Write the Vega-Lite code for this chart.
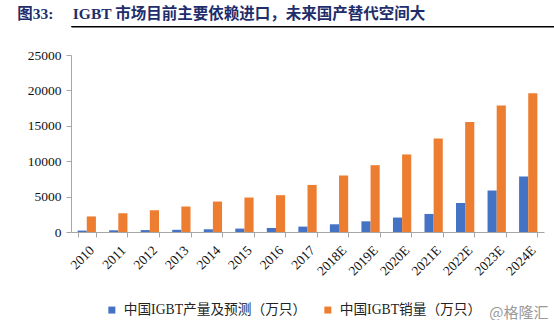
{
  "$schema": "https://vega.github.io/schema/vega-lite/v6.json",
  "padding": {"left": 15, "top": 7, "right": 0, "bottom": 0},
  "title": {
    "text": "图33:\u2003\u2005IGBT 市场目前主要依赖进口，未来国产替代空间大",
    "anchor": "start",
    "font": "Liberation Serif, Noto Sans CJK SC",
    "fontSize": 15.5,
    "fontWeight": "bold",
    "color": "#1F2D6B",
    "offset": 3,
    "dx": 2
  },
  "spacing": 21,
  "config": {"view": {"stroke": null}},
  "vconcat": [
    {
      "width": 539,
      "height": 0.5,
      "data": {"values": []},
      "view": {"stroke": "#000000", "strokeWidth": 1},
      "mark": {"type": "point", "opacity": 0}
    },
    {
      "width": 473,
      "height": 177,
      "data": {
        "values": [
          {"year": "2010", "series": "中国IGBT产量及预测（万只）", "value": 200},
          {"year": "2011", "series": "中国IGBT产量及预测（万只）", "value": 240},
          {"year": "2012", "series": "中国IGBT产量及预测（万只）", "value": 270},
          {"year": "2013", "series": "中国IGBT产量及预测（万只）", "value": 310},
          {"year": "2014", "series": "中国IGBT产量及预测（万只）", "value": 380},
          {"year": "2015", "series": "中国IGBT产量及预测（万只）", "value": 480},
          {"year": "2016", "series": "中国IGBT产量及预测（万只）", "value": 570},
          {"year": "2017", "series": "中国IGBT产量及预测（万只）", "value": 760},
          {"year": "2018E", "series": "中国IGBT产量及预测（万只）", "value": 1090},
          {"year": "2019E", "series": "中国IGBT产量及预测（万只）", "value": 1510},
          {"year": "2020E", "series": "中国IGBT产量及预测（万只）", "value": 2040},
          {"year": "2021E", "series": "中国IGBT产量及预测（万只）", "value": 2550},
          {"year": "2022E", "series": "中国IGBT产量及预测（万只）", "value": 4100},
          {"year": "2023E", "series": "中国IGBT产量及预测（万只）", "value": 5860},
          {"year": "2024E", "series": "中国IGBT产量及预测（万只）", "value": 7840},
          {"year": "2010", "series": "中国IGBT销量（万只）", "value": 2200},
          {"year": "2011", "series": "中国IGBT销量（万只）", "value": 2650},
          {"year": "2012", "series": "中国IGBT销量（万只）", "value": 3070},
          {"year": "2013", "series": "中国IGBT销量（万只）", "value": 3600},
          {"year": "2014", "series": "中国IGBT销量（万只）", "value": 4300},
          {"year": "2015", "series": "中国IGBT销量（万只）", "value": 4870},
          {"year": "2016", "series": "中国IGBT销量（万只）", "value": 5200},
          {"year": "2017", "series": "中国IGBT销量（万只）", "value": 6650},
          {"year": "2018E", "series": "中国IGBT销量（万只）", "value": 7980},
          {"year": "2019E", "series": "中国IGBT销量（万只）", "value": 9440},
          {"year": "2020E", "series": "中国IGBT销量（万只）", "value": 10950},
          {"year": "2021E", "series": "中国IGBT销量（万只）", "value": 13200},
          {"year": "2022E", "series": "中国IGBT销量（万只）", "value": 15520},
          {"year": "2023E", "series": "中国IGBT销量（万只）", "value": 17880},
          {"year": "2024E", "series": "中国IGBT销量（万只）", "value": 19580}
        ]
      },
      "mark": {"type": "bar"},
      "encoding": {
        "x": {
          "field": "year",
          "type": "nominal",
          "sort": null,
          "scale": {"paddingInner": 0.42, "paddingOuter": 0.21},
          "axis": {
            "labelAngle": -45,
            "labelFont": "Liberation Serif",
            "labelFontSize": 13.5,
            "labelColor": "#111111",
            "labelPadding": 6,
            "tickBand": "extent",
            "tickSize": 5,
            "tickColor": "#A6A6A6",
            "domainColor": "#A6A6A6",
            "title": "@格隆汇",
            "titleFont": "Noto Sans CJK SC",
            "titleFontSize": 15,
            "titleFontWeight": "normal",
            "titleColor": "#9A9A9A",
            "titleX": 477,
            "titleY": 80,
            "titleAlign": "right",
            "titleBaseline": "middle",
            "titleAngle": 0
          }
        },
        "xOffset": {
          "field": "series",
          "type": "nominal",
          "scale": {"domain": ["中国IGBT产量及预测（万只）", "中国IGBT销量（万只）"], "paddingInner": 0, "paddingOuter": 0}
        },
        "y": {
          "field": "value",
          "type": "quantitative",
          "scale": {"domain": [0, 25000], "nice": false},
          "axis": {
            "values": [0, 5000, 10000, 15000, 20000, 25000],
            "format": "d",
            "grid": false,
            "labelFont": "Liberation Serif",
            "labelFontSize": 13.5,
            "labelColor": "#111111",
            "labelPadding": 5,
            "tickSize": 5,
            "tickColor": "#A6A6A6",
            "domainColor": "#A6A6A6",
            "title": " ",
            "titleFontSize": 10,
            "titlePadding": 2
          }
        },
        "color": {
          "field": "series",
          "type": "nominal",
          "scale": {"domain": ["中国IGBT产量及预测（万只）", "中国IGBT销量（万只）"], "range": ["#4472C4", "#ED7D31"]},
          "legend": {
            "orient": "none",
            "legendX": 34,
            "legendY": 277,
            "direction": "horizontal",
            "title": null,
            "symbolType": "square",
            "symbolSize": 49,
            "symbolStrokeWidth": 0,
            "labelFont": "Liberation Serif, Noto Sans CJK SC",
            "labelFontSize": 13.7,
            "labelColor": "#222222",
            "labelOffset": 5,
            "columnPadding": 14,
            "labelLimit": 300
          }
        }
      }
    }
  ]
}
